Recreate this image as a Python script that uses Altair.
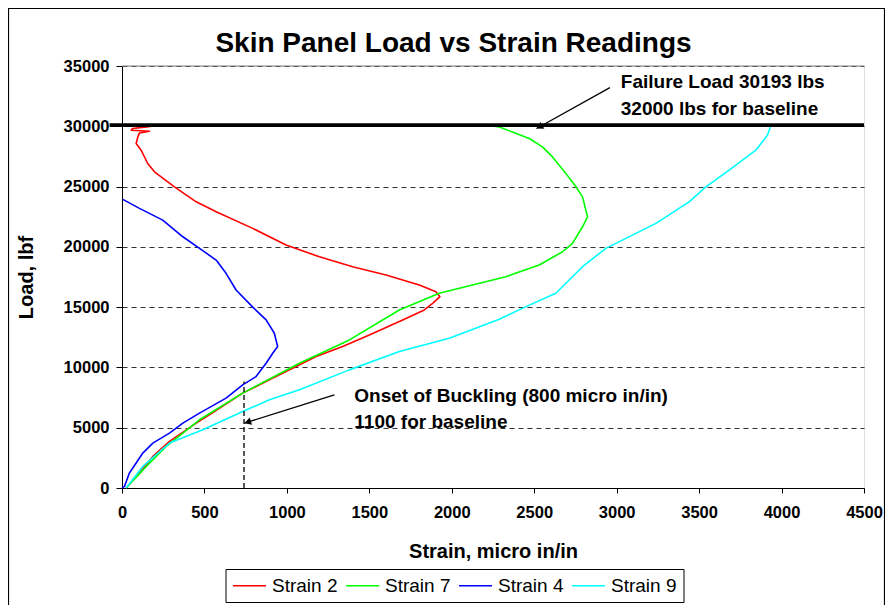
import altair as alt
import pandas as pd

FONT = "Liberation Sans, Arial, sans-serif"

# ---------------- data ----------------
series_names = ["Strain 2", "Strain 7", "Strain 4", "Strain 9"]
series_colors = ["#FF0000", "#00FF00", "#0000FF", "#00FFFF"]

strain2_x = [25, 106, 187, 288, 450, 530, 732, 894, 1056, 1177, 1338, 1500, 1702, 1833, 1884, 1928,
             1904, 1803, 1601, 1399, 1197, 995, 793, 571, 450, 318, 197, 156, 116, 86, 96, 106, 167,
             56, 64, 150, 250]
strain2_y = [0, 1242, 2617, 3860, 5383, 6070, 7868, 8969, 10070, 10899, 11728, 12696, 13938, 14766,
             15320, 15870, 16281, 16836, 17664, 18352, 19180, 20149, 21532, 22907, 23735, 24977, 26220,
             26915, 28017, 28570, 29120, 29450, 29590, 29672, 29810, 29950, 30150]

strain7_x = [25, 147, 268, 470, 732, 1076, 1379, 1682, 1924, 2126, 2328, 2530, 2672, 2732, 2793, 2823,
             2793, 2753, 2692, 2611, 2550, 2470, 2368, 2288, 2200]
strain7_y = [0, 1790, 3445, 5660, 7870, 10350, 12280, 14765, 16150, 16836, 17524, 18493, 19595, 20290,
             21665, 22493, 24149, 24977, 26087, 27462, 28290, 28986, 29532, 29947, 30100]

strain4_x = [0, 15, 45, 86, 126, 187, 288, 369, 470, 631, 732, 813, 874, 914, 944, 924, 874, 793, 692,
             631, 571, 470, 369, 247, 106, 5]
strain4_y = [0, 133, 1242, 2070, 2898, 3727, 4555, 5383, 6211, 7453, 8555, 9242, 10350, 11180, 11728,
             12836, 13938, 15000, 16422, 17803, 18906, 19876, 20837, 22219, 23189, 23935]

strain9_x = [25, 126, 288, 490, 732, 894, 1076, 1379, 1682, 1985, 2288, 2450, 2631, 2692, 2793, 2934,
             3056, 3238, 3439, 3541, 3682, 3844, 3914, 3935]
strain9_y = [0, 1790, 3727, 4830, 6345, 7313, 8140, 9797, 11313, 12420, 14000, 15041, 16150, 16978,
             18352, 19876, 20704, 21946, 23735, 24977, 26360, 28017, 29260, 30050]

x_ticks = [0, 500, 1000, 1500, 2000, 2500, 3000, 3500, 4000, 4500]
y_ticks = [0, 5000, 10000, 15000, 20000, 25000, 30000, 35000]

chart_title = "Skin Panel Load vs Strain Readings"

failure_load = 30100
failure_x = [-75, 4500]

# annotations (data coordinates)
ann_text = ["Failure Load 30193 lbs", "32000 lbs for baseline",
            "Onset of Buckling (800 micro in/in)", "1100 for baseline"]
ann_x = [3025, 3025, 1409, 1409]
ann_y = [33209, 30973, 7172, 4969]

arrow_x1 = [2959, 1288]
arrow_y1 = [33210, 7727]
arrow_x2 = [2514, 742]
arrow_y2 = [29814, 5375]
head_x = [2532, 762]
head_y = [29945, 5460]
head_angle = [240.8, 252.5]

buckle_x = 740
buckle_y2 = 8830

# ---------------- build tables ----------------
rows = []
for name, xs, ys in zip(series_names,
                        [strain2_x, strain7_x, strain4_x, strain9_x],
                        [strain2_y, strain7_y, strain4_y, strain9_y]):
    for i, (a, b) in enumerate(zip(xs, ys)):
        rows.append({"series": name, "idx": i, "strain": a, "load": b})
df = pd.DataFrame(rows)

xscale = alt.Scale(domain=[0, 4500], nice=False, zero=False)
yscale = alt.Scale(domain=[0, 35000], nice=False, zero=False)

x_axis = alt.Axis(values=x_ticks, grid=False, tickSize=5, tickColor="black", domainColor="black",
                  labelFont=FONT, labelFontSize=16.5, labelFontWeight="bold", labelColor="black",
                  labelPadding=11, labelFlush=False, labelOverlap=False, format="d",
                  title="Strain, micro in/in", titleFont=FONT, titleFontSize=20, titleFontWeight="bold",
                  titleColor="black", titleY=69, titleBaseline="alphabetic")
y_axis = alt.Axis(values=y_ticks, grid=True, gridDash=[5, 4], gridColor="#333333", gridWidth=1,
                  tickSize=6, tickColor="black", domainColor="black",
                  labelFont=FONT, labelFontSize=16.5, labelFontWeight="bold", labelColor="black",
                  labelPadding=7, labelOverlap=False, format="d",
                  title="Load, lbf", titleFont=FONT, titleFontSize=20, titleFontWeight="bold",
                  titleColor="black", titleX=-90, titleY=211, titleBaseline="alphabetic",
                  titleAlign="center")


def X(field):
    return alt.X(field, type="quantitative", scale=xscale, axis=x_axis)


def Y(field):
    return alt.Y(field, type="quantitative", scale=yscale, axis=y_axis)


one = pd.DataFrame({"k": [0]})

# outer chart frame
frame = alt.Chart(one).mark_rect(fillOpacity=0, stroke="black", strokeWidth=1.2).encode(
    x=alt.value(-113.5), x2=alt.value(762.5), y=alt.value(-57.5), y2=alt.value(560))

# solid grey top border of the plot area (over the dashed gridline)
top_border = alt.Chart(one).mark_rule(color="#808080", strokeWidth=1).encode(
    x=alt.value(0), x2=alt.value(742), y=alt.value(0))

# legend box
legend_box = alt.Chart(one).mark_rect(fill="white", stroke="black", strokeWidth=1).encode(
    x=alt.value(104), x2=alt.value(562), y=alt.value(503.5), y2=alt.value(536.5))

lines = alt.Chart(df).mark_line(strokeWidth=1.6, strokeJoin="round").encode(
    x=X("strain"),
    y=Y("load"),
    color=alt.Color("series:N",
                    scale=alt.Scale(domain=series_names, range=series_colors),
                    legend=alt.Legend(title=None, orient="none", legendX=110, legendY=502,
                                      direction="horizontal", symbolType="stroke",
                                      symbolSize=1089, symbolStrokeWidth=1.6,
                                      labelFont=FONT, labelFontSize=19, labelColor="black",
                                      labelOffset=5, columnPadding=4, padding=0,
                                      labelLimit=200)),
    order="idx:Q",
)

fail_df = pd.DataFrame({"x": [failure_x[0]], "x2": [failure_x[1]], "y": [failure_load]})
fail_line = alt.Chart(fail_df).mark_rule(color="black", strokeWidth=3.7).encode(
    x=X("x"), x2="x2:Q", y=Y("y"))

arr_df = pd.DataFrame({"x": arrow_x1, "y": arrow_y1, "x2": arrow_x2, "y2": arrow_y2})
arrows = alt.Chart(arr_df).mark_rule(color="black", strokeWidth=1.3).encode(
    x=X("x"), x2="x2:Q", y=Y("y"), y2="y2:Q")

head_df = pd.DataFrame({"x": head_x, "y": head_y, "a": head_angle})
heads = alt.Chart(head_df).mark_point(shape="triangle-up", filled=True, size=60, color="black",
                                      opacity=1).encode(
    x=X("x"), y=Y("y"), angle=alt.Angle("a:Q", scale=None))

buck_df = pd.DataFrame({"x": [buckle_x], "y": [0], "y2": [buckle_y2]})
buckle = alt.Chart(buck_df).mark_rule(color="black", strokeWidth=1.3, strokeDash=[5, 3]).encode(
    x=X("x"), y=Y("y"), y2="y2:Q")

txt_df = pd.DataFrame({"x": ann_x, "y": ann_y, "t": ann_text})
texts = alt.Chart(txt_df).mark_text(align="left", baseline="alphabetic", font=FONT, fontSize=19,
                                    fontWeight="bold", color="black").encode(
    x=X("x"), y=Y("y"), text="t:N")

title_df = pd.DataFrame({"t": [chart_title]})
title = alt.Chart(title_df).mark_text(align="center", baseline="alphabetic", font=FONT, fontSize=28,
                                      fontWeight="bold", color="black").encode(
    x=alt.value(331.5), y=alt.value(-14.5), text="t:N")

chart = alt.layer(frame, legend_box, lines, top_border, fail_line, arrows, heads, buckle, texts,
                  title).properties(
    width=742, height=422,
    autosize=alt.AutoSizeParams(type="none"),
    padding={"left": 114, "top": 58, "right": 21, "bottom": 117},
).configure_view(stroke="#808080", strokeWidth=1).configure(background="white")

chart.save("out.html", embed_options={"renderer": "svg", "actions": False})
